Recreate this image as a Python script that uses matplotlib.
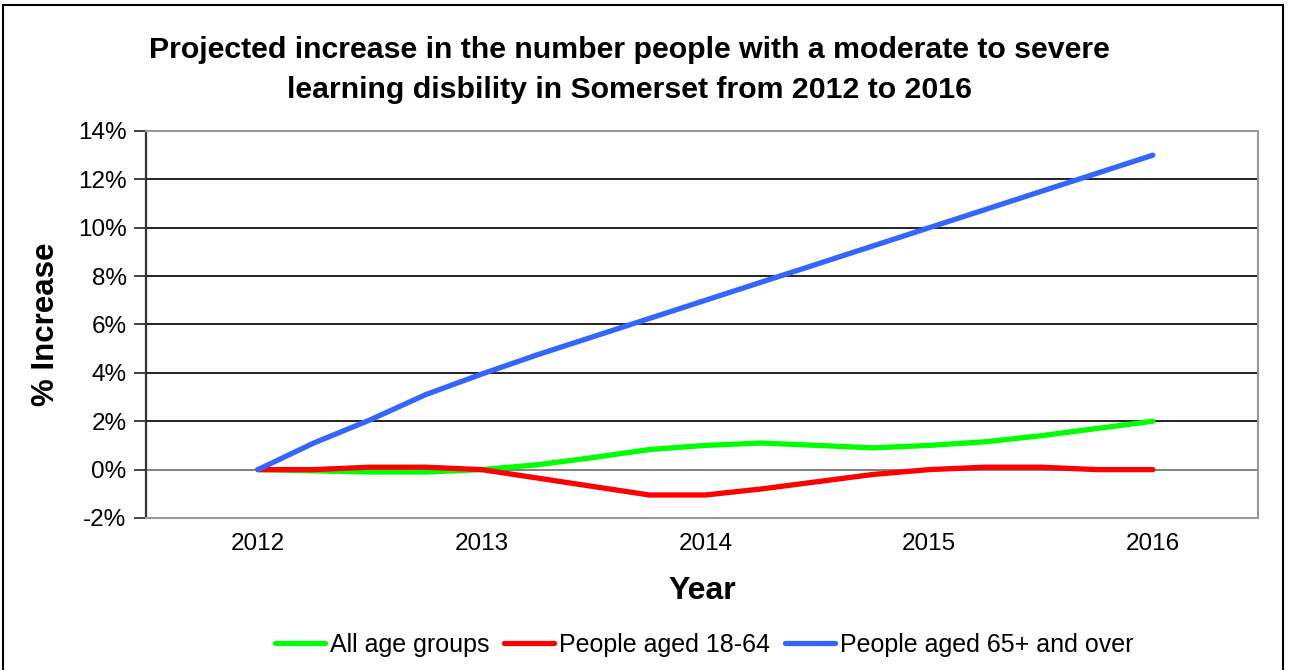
import matplotlib
matplotlib.use('Agg')
import matplotlib.pyplot as plt
from matplotlib.patches import Rectangle
from matplotlib.ticker import FuncFormatter

plt.rcParams['font.family'] = ['Liberation Sans', 'DejaVu Sans']

# quarterly points, 2012 - 2016
years = [2012, 2012.25, 2012.5, 2012.75, 2013, 2013.25, 2013.5, 2013.75, 2014,
         2014.25, 2014.5, 2014.75, 2015, 2015.25, 2015.5, 2015.75, 2016]
all_ages = [0, -0.05, -0.1, -0.1, 0, 0.2, 0.5, 0.83, 1.0,
            1.1, 1.0, 0.9, 1.0, 1.15, 1.4, 1.7, 2.0]
aged_18_64 = [0, 0, 0.1, 0.1, 0, -0.35, -0.7, -1.05, -1.05,
              -0.8, -0.5, -0.2, 0.0, 0.1, 0.1, 0.0, 0.0]
aged_65 = [0, 1.1, 2.05, 3.1, 3.95, 4.75, 5.5, 6.25, 7.0,
           7.75, 8.5, 9.25, 10.0, 10.75, 11.5, 12.25, 13.0]
year_ticks = [2012, 2013, 2014, 2015, 2016]

fig = plt.figure(figsize=(12.9, 6.7), dpi=100)
ax = fig.add_axes([0.1132, 0.2269, 0.862, 0.5776])

for v in range(-2, 15, 2):
    ax.axhline(v, color='#808080' if v == 0 else '#222222', lw=1.4, zorder=1)

ax.plot(years, all_ages, color='#00FF00', lw=3.8, label='All age groups',
        solid_capstyle='round', solid_joinstyle='round', zorder=3)
ax.plot(years, aged_18_64, color='#FF0000', lw=3.8, label='People aged 18-64',
        solid_capstyle='round', solid_joinstyle='round', zorder=4)
ax.plot(years, aged_65, color='#3366FF', lw=3.8, label='People aged 65+ and over',
        solid_capstyle='round', solid_joinstyle='round', zorder=5)

ax.set_xlim(2011.5, 2016.47)
ax.set_ylim(-2, 14)
ax.set_yticks(range(-2, 15, 2))
ax.yaxis.set_major_formatter(FuncFormatter(lambda v, p: f'{int(v)}%'))
ax.set_xticks(year_ticks)
ax.set_xticklabels([str(y) for y in year_ticks])
ax.tick_params(axis='x', length=0, labelsize=17.5, pad=11)
ax.tick_params(axis='y', length=9, width=1.3, color='#333333', labelsize=17.5, pad=5)

for s in ['top', 'right', 'bottom']:
    ax.spines[s].set_color('#999999')
    ax.spines[s].set_linewidth(1.5)
ax.spines['left'].set_color('#333333')
ax.spines['left'].set_linewidth(1.6)

ax.set_xlabel('Year', fontsize=23, fontweight='bold', labelpad=15)
ax.set_ylabel('% Increase', fontsize=22.5, fontweight='bold', labelpad=12)

fig.text(0.488, 0.895, 'Projected increase in the number people with a moderate to severe\n'
         'learning disbility in Somerset from 2012 to 2016',
         ha='center', va='center', fontsize=21.8, fontweight='bold', linespacing=1.55)

fig.legend(loc='center', bbox_to_anchor=(0.546, 0.037), ncol=3, frameon=False,
           fontsize=18, handlelength=2.0, handletextpad=0.2, columnspacing=0.6)

# outer chart frame
fig.patches.append(Rectangle((0.0025, -0.02), 0.992, 1.0125, transform=fig.transFigure,
                             fill=False, edgecolor='black', lw=1.5))

fig.savefig('out.png', dpi=100)
